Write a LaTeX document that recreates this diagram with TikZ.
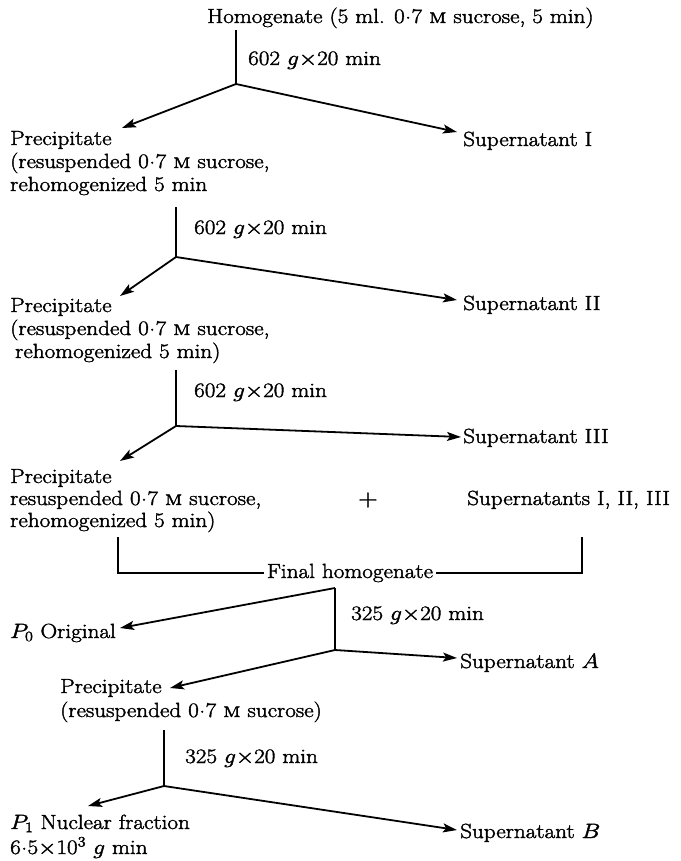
\documentclass[tikz,border=0pt]{standalone}
\usepackage{graphicx}
\usetikzlibrary{arrows.meta}
\newcommand{\stx}[1]{\special{pdf:literal direct 2 Tr 0.35 w}\scalebox{1.13}[1]{#1}\special{pdf:literal direct 0 Tr}}
\newcommand{\md}{\kern0.02em\raisebox{0.5ex}{.}\kern0.02em}
\begin{document}
\begin{tikzpicture}[x=1pt,y=-1pt,
  txt/.style={font=\fontsize{20.5}{23}\selectfont, inner sep=0pt, anchor=base west},
  arr/.style={line width=1.8pt, -{Stealth[length=14pt,width=9pt,inset=3pt]}},
  ln/.style={line width=1.4pt}]
\useasboundingbox (0,0) rectangle (680,861);
% top
\node[txt] (hom) at (207,23) {\stx{Homogenate (5 ml. 0\md 7 \textsc{m} sucrose, 5 min)}};
\coordinate (v1t) at (236,30);
\coordinate (b1) at (236,84);
\node[txt] (l1) at (248,65) {\stx{602 $g{\times}$20 min}};
\coordinate (t1l) at (122,128);
\coordinate (t1r) at (457,132);
\node[txt] (p1a) at (10,145) {\stx{Precipitate}};
\node[txt] (p1b) at (10,168) {\stx{(resuspended 0\md 7 \textsc{m} sucrose,}};
\node[txt] (p1c) at (10,191) {\stx{rehomogenized 5 min}};
\node[txt] (s1) at (463,146) {\stx{Supernatant I}};
\draw[ln] (v1t) -- (b1);
\draw[arr] (b1) -- (t1l);
\draw[arr] (b1) -- (t1r);
% second
\coordinate (v2t) at (176,207);
\coordinate (b2) at (176,257);
\node[txt] (l2) at (194,234) {\stx{602 $g{\times}$20 min}};
\coordinate (t2l) at (120,296);
\coordinate (t2r) at (457,300);
\node[txt] (p2a) at (10,312) {\stx{Precipitate}};
\node[txt] (p2b) at (10,335) {\stx{(resuspended 0\md 7 \textsc{m} sucrose,}};
\node[txt] (p2c) at (15,358) {\stx{rehomogenized 5 min)}};
\node[txt] (s2) at (463,310) {\stx{Supernatant II}};
\draw[ln] (v2t) -- (b2);
\draw[arr] (b2) -- (t2l);
\draw[arr] (b2) -- (t2r);
% third
\coordinate (v3t) at (176,370);
\coordinate (b3) at (176,426);
\node[txt] (l3) at (194,397) {\stx{602 $g{\times}$20 min}};
\coordinate (t3l) at (120,461);
\coordinate (t3r) at (461,437);
\node[txt] (p3a) at (10,483) {\stx{Precipitate}};
\node[txt] (p3b) at (10,505) {\stx{resuspended 0\md 7 \textsc{m} sucrose,}};
\node[txt] (p3c) at (10,527) {\stx{rehomogenized 5 min)}};
\node[txt] (s3) at (463,443) {\stx{Supernatant III}};
\node[txt, font=\fontsize{24}{24}\selectfont] (plus) at (358,506) {\stx{+}};
\node[txt] (sall) at (467,505) {\stx{Supernatants I, II, III}};
\draw[ln] (v3t) -- (b3);
\draw[arr] (b3) -- (t3l);
\draw[arr] (b3) -- (t3r);
% combine
\node[txt, anchor=base] (fin) at (350,578) {\stx{Final homogenate}};
\coordinate (bl) at (118,537);
\coordinate (br) at (582,537);
\draw[ln] (bl) |- ([xshift=-3pt]fin.west);
\draw[ln] (br) |- ([xshift=3pt]fin.east);
% fourth
\coordinate (v4t) at (335,588);
\coordinate (b4) at (335,650);
\node[txt] (l4) at (351,620) {\stx{325 $g{\times}$20 min}};
\coordinate (t4p) at (120,628);
\coordinate (t4r) at (457,658);
\coordinate (t4l) at (170,688);
\node[txt] (p0) at (10,638) {\stx{$P_0$ Original}};
\node[txt] (sA) at (460,668) {\stx{Supernatant $A$}};
\node[txt] (p4a) at (60,693) {\stx{Precipitate}};
\node[txt] (p4b) at (60,717) {\stx{(resuspended 0\md 7 \textsc{m} sucrose)}};
\draw[ln] (v4t) -- (b4);
\draw[arr] (v4t) -- (t4p);
\draw[arr] (b4) -- (t4r);
\draw[arr] (b4) -- (t4l);
% fifth
\coordinate (v5t) at (164,730);
\coordinate (b5) at (164,786);
\node[txt] (l5) at (185,763) {\stx{325 $g{\times}$20 min}};
\coordinate (t5l) at (88,806);
\coordinate (t5r) at (457,830);
\node[txt] (p5a) at (10,829) {\stx{$P_1$ Nuclear fraction}};
\node[txt] (p5b) at (10,854) {\stx{6\md 5$\times$10$^3$ $g$ min}};
\node[txt] (sB) at (460,838) {\stx{Supernatant $B$}};
\draw[ln] (v5t) -- (b5);
\draw[arr] (b5) -- (t5l);
\draw[arr] (b5) -- (t5r);
\end{tikzpicture}
\end{document}
